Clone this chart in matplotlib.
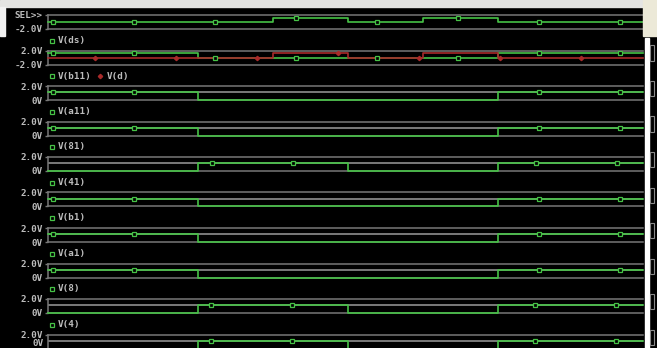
import matplotlib
matplotlib.use("Agg")
import matplotlib.pyplot as plt
from matplotlib.lines import Line2D
from matplotlib.patches import Rectangle
import numpy as np

# segment start times (edges), last value is the right end of the window
edges = [0, 2, 3, 4, 5, 6, 7.93]

# logic levels per segment, one list per trace
v_ds = [0, 0, 1.2, 0, 1.2, 0]
v_b11 = [1.2, 0, 0, 0, 0, 1.2]
v_d = [0, 0, 1.2, 0, 1.2, 0]
v_a11 = [1.1, 0, 0, 0, 0, 1.1]
v_81 = [1.1, 0, 0, 0, 0, 1.1]
v_41 = [0, 1.1, 1.1, 0, 0, 1.1]
v_b1 = [1.1, 0, 0, 0, 0, 1.1]
v_a1 = [1.1, 0, 0, 0, 0, 1.1]
v_8 = [1.1, 0, 0, 0, 0, 1.1]
v_4 = [0, 1.1, 1.1, 0, 0, 1.1]
v_x = [0, 1.1, 1.1, 0, 0, 1.1]

legend_names = ["V(ds)", "V(b11)", "V(a11)", "V(81)", "V(41)", "V(b1)",
                "V(a1)", "V(8)", "V(4)", None]
panel_traces = [[v_ds], [v_b11, v_d], [v_a11], [v_81], [v_41], [v_b1],
                [v_a1], [v_8], [v_4], [v_x]]
ranges = [(-2, 2), (-2, 2)] + [(0, 2)] * 8
top_labels = ["SEL>>", "2.0V"] + ["2.0V"] * 8
bot_labels = ["-2.0V", "-2.0V"] + ["0V"] * 8
# first marker time for the green trace of each panel
mark_start = [0.07, 0.07, 0.07, 0.07, 2.19, 0.07, 0.07, 0.07, 2.17, 2.17]

W, H = 657, 348
GREEN = "#46c246"
RED = "#a82a2a"
GRAY = "#777777"
GRAY_HI = "#9a9a9a"
TXT = "#bdbdbd"
FONT = dict(family="DejaVu Sans Mono", fontsize=6.7, fontweight="bold", color=TXT)


def fx(x):
    return x / W


def fy(y):
    return 1 - y / H


def level_at(levels, t):
    idx = np.searchsorted(edges, t, side="right") - 1
    idx = np.clip(idx, 0, len(levels) - 1)
    return np.array(levels)[idx]


fig = plt.figure(figsize=(W / 100, H / 100), dpi=100, facecolor="black")

# window chrome around the black plot area
fig.patches.append(Rectangle((0, fy(7)), 1, 7 / H, transform=fig.transFigure,
                             color="#e4e4e2", zorder=0))
fig.patches.append(Rectangle((fx(643), fy(36)), 14 / W, 36 / H, transform=fig.transFigure,
                             color="#ece9d8", zorder=0))
fig.patches.append(Rectangle((0, fy(36)), 5 / W, 29 / H, transform=fig.transFigure,
                             color="#f2f2f2", zorder=0))
fig.patches.append(Rectangle((fx(645), 0), 4 / W, fy(38), transform=fig.transFigure,
                             color="white", zorder=0))

for i in range(10):
    top = 15 + 35.5 * i
    h = 14
    ax = fig.add_axes([fx(48), fy(top + h), fx(643) - fx(48), h / H])
    ax.set_facecolor("none")
    lo, hi = ranges[i]
    ax.set_xlim(0, edges[-1])
    ax.set_ylim(lo, hi)
    for s in ["top", "bottom", "left"]:
        ax.spines[s].set_color(GRAY)
        ax.spines[s].set_linewidth(1.1)
    ax.spines["right"].set_visible(False)
    ax.set_xticks([])
    ax.set_yticks([lo, hi])
    last = i == 9
    # the last panel runs off the window: its 0V label sits a bit higher
    ax.set_yticklabels(["" if last else bot_labels[i], top_labels[i]])
    ax.tick_params(axis="y", length=2.2, width=1, color=GRAY, pad=1.5)
    for lab in ax.get_yticklabels():
        lab.set_fontfamily(FONT["family"])
        lab.set_fontsize(FONT["fontsize"])
        lab.set_fontweight("bold")
        lab.set_color(TXT)
    if last:
        fig.text(fx(43.5), fy(343.5), bot_labels[i], ha="right", va="center", **FONT)

    traces = panel_traces[i]
    if i >= 2:
        ax.axhline(max(traces[0]), color=GRAY_HI, lw=1.1, zorder=1)

    for k, lev in enumerate(traces):
        col = GREEN if k == 0 else RED
        ys = lev + [lev[-1]]
        ax.plot(edges, ys, drawstyle="steps-post", color=col, lw=1.2,
                zorder=3 + k, clip_on=False)
        if k == 0:
            mt = np.arange(mark_start[i], edges[-1], 1.08)
            my = level_at(lev, mt)
            if i >= 2:
                keep = my > 0
                mt, my = mt[keep], my[keep]
            ax.plot(mt, my, ls="none", marker="s", ms=3.2, mfc="black",
                    mec=GREEN, mew=0.9, zorder=5, clip_on=False)
        else:
            mt = np.arange(0.63, edges[-1], 1.08)
            my = level_at(lev, mt)
            ax.plot(mt, my, ls="none", marker="D", ms=2.2, mfc=RED,
                    mec=RED, zorder=6, clip_on=False)

    # legend line under the panel
    name = legend_names[i]
    if name is not None:
        ly = top + 25.5
        fig.add_artist(Line2D([fx(51.5)], [fy(ly)], transform=fig.transFigure,
                              marker="s", ms=3.2, mfc="black", mec=GREEN, mew=0.9, ls="none"))
        fig.text(fx(57.5), fy(ly), name, va="center", ha="left", **FONT)
        if i == 1:
            fig.add_artist(Line2D([fx(100)], [fy(ly)], transform=fig.transFigure,
                                  marker="D", ms=2.2, mfc=RED, mec=RED, ls="none"))
            fig.text(fx(106.5), fy(ly), "V(d)", va="center", ha="left", **FONT)

    # little scroll brackets on the right edge
    if i >= 1:
        fig.patches.append(Rectangle((fx(649.5), fy(top + 10)), 4.5 / W, 15 / H,
                                     transform=fig.transFigure, fill=False,
                                     ec="#8a8a8a", lw=0.8, zorder=2))

fig.savefig("out.png", dpi=100, facecolor=fig.get_facecolor())
